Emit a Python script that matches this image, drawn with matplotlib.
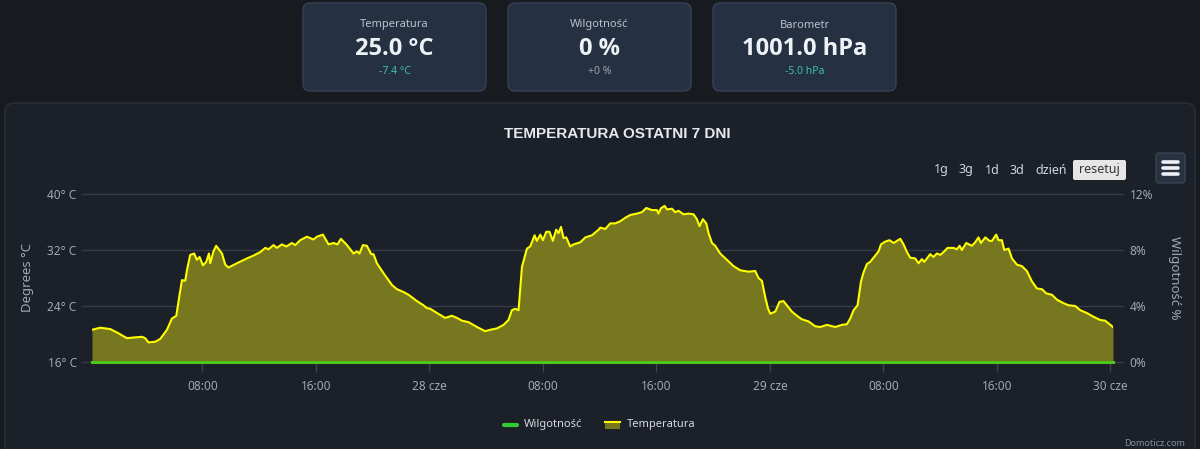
import matplotlib
matplotlib.use("Agg")
import matplotlib.pyplot as plt
from matplotlib.patches import FancyBboxPatch, Rectangle

# hours since 27 cze 00:00
hours = [
    0.23, 0.81, 1.52, 2.10, 2.69, 3.16, 3.75, 3.98, 4.21, 4.69, 5.04, 5.51,
    5.86, 6.17, 6.40, 6.57, 6.80, 6.92, 7.15, 7.43, 7.62, 7.81, 8.05, 8.28,
    8.47, 8.56, 8.79, 8.98, 9.39, 9.62, 9.85, 10.44, 11.15, 11.61, 12.09,
    12.44, 12.67, 13.02, 13.26, 13.61, 13.92, 14.32, 14.55, 14.90, 15.38,
    15.84, 16.08, 16.50, 16.90, 17.25, 17.53, 17.77, 18.20, 18.66, 18.90,
    19.08, 19.32, 19.60, 19.91, 20.07, 20.31, 20.77, 21.37, 21.72, 22.18,
    22.54, 23.13, 23.59, 23.83, 24.07, 24.54, 25.12, 25.59, 25.95, 26.30,
    26.76, 27.36, 27.94, 28.29, 28.77, 29.23, 29.58, 29.82, 30.06, 30.29,
    30.53, 30.88, 31.11, 31.42, 31.58, 31.82, 32.01, 32.24, 32.47, 32.71,
    32.94, 33.11, 33.28, 33.46, 33.65, 33.93, 34.16, 34.64, 34.99, 35.46,
    35.93, 36.05, 36.40, 36.75, 37.10, 37.45, 37.81, 38.16, 38.63, 38.98,
    39.29, 39.69, 40.04, 40.15, 40.32, 40.58, 40.75, 41.10, 41.33, 41.56,
    41.92, 42.27, 42.62, 42.86, 43.04, 43.28, 43.52, 43.68, 43.92, 44.15,
    44.50, 44.97, 45.44, 45.91, 46.50, 46.97, 47.20, 47.44, 47.67, 47.86,
    48.03, 48.26, 48.38, 48.68, 48.96, 49.20, 49.55, 49.91, 50.26, 50.72,
    51.20, 51.55, 52.02, 52.61, 53.08, 53.43, 53.66, 53.90, 54.18, 54.42,
    54.60, 54.84, 55.07, 55.35, 55.66, 55.83, 56.13, 56.43, 56.72, 56.95,
    57.19, 57.42, 57.66, 57.89, 58.24, 58.48, 58.71, 58.88, 59.30, 59.53,
    59.77, 60.01, 60.24, 60.52, 60.94, 61.18, 61.37, 61.53, 61.84, 62.24,
    62.47, 62.70, 62.87, 63.18, 63.48, 63.65, 63.95, 64.11, 64.35, 64.52,
    64.82, 65.06, 65.41, 65.76, 66.11, 66.47, 66.82, 67.17, 67.48, 67.88,
    68.23, 68.70, 69.05, 69.52, 69.87, 70.34, 70.77, 71.28, 71.63, 71.99,
    72.18,
]
temperature = [
    20.6, 20.9, 20.7, 20.1, 19.4, 19.5, 19.6, 19.4, 18.8, 18.9, 19.3, 20.6,
    22.2, 22.6, 25.6, 27.7, 27.6, 29.1, 31.3, 31.5, 30.6, 31.0, 29.8, 30.3,
    31.5, 30.1, 31.8, 32.6, 31.5, 29.9, 29.5, 30.1, 30.8, 31.2, 31.7,
    32.3, 32.1, 32.7, 32.3, 32.8, 32.5, 33.0, 32.7, 33.4, 33.9,
    33.5, 33.9, 34.2, 32.8, 33.0, 32.8, 33.6, 32.7, 31.5, 31.8,
    31.5, 32.7, 32.6, 31.4, 31.4, 30.1, 28.7, 27.0, 26.4, 26.0,
    25.6, 24.7, 24.1, 23.7, 23.6, 23.0, 22.3, 22.6, 22.3, 21.9,
    21.7, 21.0, 20.4, 20.6, 20.8, 21.3, 22.0, 23.4, 23.6, 23.4,
    29.6, 32.2, 32.5, 34.1, 33.3, 34.2, 33.4, 34.6, 34.6, 33.3,
    34.9, 34.4, 35.3, 33.7, 33.8, 32.5, 32.8, 33.1, 33.8, 34.1,
    34.9, 35.2, 35.0, 35.8, 35.8, 36.1, 36.6, 37.0, 37.2, 37.4,
    38.0, 37.7, 37.7, 37.2, 37.95, 38.3, 37.8, 37.9, 37.4, 37.6,
    37.1, 37.2, 37.1, 36.4, 35.4, 36.4, 35.8, 34.4, 33.0, 32.6,
    31.5, 30.6, 29.7, 29.1, 28.9, 29.0, 28.0, 27.6, 25.3, 23.7,
    22.9, 23.1, 23.2, 24.6, 24.7, 24.1, 23.2, 22.6, 22.1, 21.8,
    21.1, 21.0, 21.3, 21.0, 21.3, 21.4, 22.2, 23.4, 24.1, 27.5,
    28.8, 30.0, 30.3, 31.0, 31.8, 32.8, 33.2, 33.4, 33.0, 33.3,
    33.6, 32.8, 31.7, 30.9, 30.8, 30.1, 30.7, 30.3, 31.4, 31.0,
    31.5, 31.3, 31.7, 32.3, 32.3, 32.1, 32.6, 32.0, 33.0, 32.6,
    33.1, 33.8, 33.0, 33.8, 33.3, 33.3, 34.2, 33.4, 33.4, 32.0,
    32.2, 30.8, 29.9, 29.7, 29.0, 27.5, 26.5, 26.4, 25.8, 25.6,
    24.9, 24.4, 24.1, 24.0, 23.4, 23.0, 22.5, 22.0, 21.9, 21.3,
    21.0,
]
humidity = [0.0] * len(hours)

x_ticks = [8, 16, 24, 32, 40, 48, 56, 64, 72]
x_labels = ["08:00", "16:00", "28 cze", "08:00", "16:00", "29 cze", "08:00", "16:00", "30 cze"]
temp_ticks = [16, 24, 32, 40]
hum_ticks = [0, 4, 8, 12]

cards = [
    ("Temperatura", "25.0 °C", "-7.4 °C"),
    ("Wilgotność", "0 %", "+0 %"),
    ("Barometr", "1001.0 hPa", "-5.0 hPa"),
]
range_buttons = ["1g", "3g", "1d", "3d", "dzień"]

BG = "#171a1f"
PANEL = "#1b2029"
CARD = "#253142"
GRID = "#353c48"
TICK_TXT = "#a3a8b0"
FILL = "#76771e"
LINE = "#ffff00"
GREEN = "#4fc41c"

plt.rcParams["font.family"] = ["Noto Sans", "DejaVu Sans"]

fig = plt.figure(figsize=(12, 4.49), dpi=100, facecolor=BG)

# background layer in pixel coordinates
bg = fig.add_axes([0, 0, 1, 1], zorder=0)
bg.set_xlim(0, 1200)
bg.set_ylim(449, 0)
bg.axis("off")

bg.add_patch(FancyBboxPatch((5, 103), 1190, 360, boxstyle="round,pad=0,rounding_size=9",
                            fc=PANEL, ec="#2b313c", lw=1))

for i, (name, value, delta) in enumerate(cards):
    x0 = 303 + i * 205
    bg.add_patch(FancyBboxPatch((x0, 3), 183, 88, boxstyle="round,pad=0,rounding_size=7",
                                fc=CARD, ec="#364152", lw=1))
    cx = x0 + 91.5
    bg.text(cx, 25, name, ha="center", va="center", fontsize=8, color="#b9c0ca")
    bg.text(cx, 49, value, ha="center", va="center", fontsize=17, fontweight="bold",
            color="#eef1f5", family=["Open Sans", "DejaVu Sans"])
    bg.text(cx, 72, delta, ha="center", va="center", fontsize=7.5,
            color="#9aa1ab" if delta.startswith("+0") else "#3fbfa4")

bg.text(617, 134, "TEMPERATURA OSTATNI 7 DNI", ha="center", va="center", fontsize=11,
        fontweight="bold", color="#e6e9ee", family="Liberation Sans")

for lbl, bx in zip(range_buttons, [941, 966, 992, 1017, 1051]):
    bg.text(bx, 170, lbl, ha="center", va="center", fontsize=9, color="#d2d6dc")
bg.add_patch(FancyBboxPatch((1073, 160), 53, 20, boxstyle="round,pad=0,rounding_size=2",
                            fc="#e6e6e6", ec="none"))
bg.text(1099.5, 170, "resetuj", ha="center", va="center", fontsize=9, color="#333333")

bg.add_patch(FancyBboxPatch((1156, 153), 29, 30, boxstyle="round,pad=0,rounding_size=3",
                            fc="#27313f", ec="#3a4454", lw=1))
for yy in (162, 168, 174):
    bg.plot([1163, 1178], [yy, yy], color="#eef1f5", lw=2.6, solid_capstyle="round")

bg.text(28, 278, "Degrees °C", ha="center", va="center", rotation=90, fontsize=9.5, color=TICK_TXT)
bg.text(1174, 278, "Wilgotność %", ha="center", va="center", rotation=270, fontsize=9.5,
        color=TICK_TXT)

# legend
bg.plot([504, 517], [425, 425], color="#33cc33", lw=3, solid_capstyle="round")
bg.text(524, 425, "Wilgotność", ha="left", va="center", fontsize=8, color="#d6d9de")
bg.add_patch(Rectangle((605, 421), 15, 8, fc=FILL, ec="none"))
bg.plot([605, 620], [422, 422], color=LINE, lw=1.5)
bg.text(627, 425, "Temperatura", ha="left", va="center", fontsize=8, color="#d6d9de")

bg.text(1185, 444, "Domoticz.com", ha="right", va="center", fontsize=6.5, color="#8a9099")

# chart
ax = fig.add_axes([92 / 1200, 1 - 362 / 449, (1113 - 92) / 1200, (362 - 194) / 449], zorder=2)
ax.set_facecolor("none")
ax.set_xlim(hours[0], hours[-1])
ax.set_ylim(16, 40)

for t in temp_ticks[1:]:
    ax.plot([-0.01, 1.01], [t, t], color=GRID, lw=1, transform=ax.get_yaxis_transform(),
            clip_on=False, zorder=0)

ax.fill_between(hours, temperature, 16, color=FILL, lw=0, zorder=1)
ax.plot(hours, temperature, color=LINE, lw=1.5, zorder=2)

for s in ax.spines.values():
    s.set_visible(False)
ax.set_yticks(temp_ticks)
ax.set_yticklabels([f"{t}° C" for t in temp_ticks])
ax.tick_params(axis="y", length=0, pad=11, labelsize=8.5, labelcolor=TICK_TXT)
ax.set_xticks(x_ticks)
ax.set_xticklabels(x_labels)
ax.tick_params(axis="x", length=7, width=1, color="#3c4452", pad=6, labelsize=8.5,
               labelcolor=TICK_TXT)

ax2 = ax.twinx()
ax2.set_ylim(0, 12)
ax2.set_yticks(hum_ticks)
ax2.set_yticklabels([f"{h}%" for h in hum_ticks])
ax2.tick_params(axis="y", length=0, pad=12, labelsize=8.5, labelcolor=TICK_TXT)
for s in ax2.spines.values():
    s.set_visible(False)
ax2.plot([-0.01, 1.01], [0, 0], color=GRID, lw=1, transform=ax2.get_yaxis_transform(),
         clip_on=False, zorder=0)
ax2.plot(hours, humidity, color=GREEN, lw=2.2, clip_on=False, zorder=3)

fig.savefig("out.png", dpi=100, facecolor=BG)
